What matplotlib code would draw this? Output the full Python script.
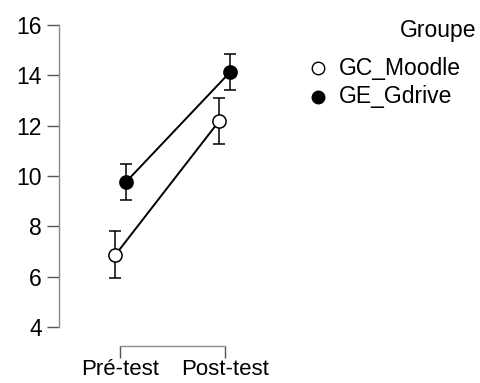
import matplotlib.pyplot as plt
from matplotlib.lines import Line2D

plt.rcParams['font.family'] = ['Liberation Sans', 'DejaVu Sans']

temps = ["Pré-test", "Post-test"]
groupes = ["GC_Moodle", "GE_Gdrive"]
moyennes = {"GC_Moodle": [6.86, 12.2], "GE_Gdrive": [9.75, 14.12]}
bas = {"GC_Moodle": [5.95, 11.26], "GE_Gdrive": [9.03, 13.4]}
hauts = {"GC_Moodle": [7.82, 13.11], "GE_Gdrive": [10.48, 14.85]}
couleurs = {"GC_Moodle": "white", "GE_Gdrive": "black"}
decalage = {"GC_Moodle": -0.05, "GE_Gdrive": 0.05}

W, H = 481, 383
fig = plt.figure(figsize=(W / 100, H / 100), dpi=100)
ax = fig.add_axes([59 / W, 1 - 327 / H, (282 - 59) / W, (327 - 25) / H])

for g in groupes:
    xs = [i + decalage[g] for i in range(len(temps))]
    m = moyennes[g]
    err = [[m[i] - bas[g][i] for i in range(2)], [hauts[g][i] - m[i] for i in range(2)]]
    ax.errorbar(xs, m, yerr=err, color="black", lw=1.4, elinewidth=1.1, capsize=4,
                capthick=1.1, marker="o", markersize=9.5, markerfacecolor=couleurs[g],
                markeredgecolor="black", markeredgewidth=1.1, clip_on=False, zorder=3)

ax.set_xlim(-0.59, 1.55)
ax.set_ylim(4, 16)
ax.set_yticks([4, 6, 8, 10, 12, 14, 16])
ax.set_xticks([0, 1])
ax.set_xticklabels(temps)
for s in ["top", "right"]:
    ax.spines[s].set_visible(False)
ax.spines["left"].set_bounds(4, 16)
ax.spines["bottom"].set_bounds(0, 1)
ax.spines["bottom"].set_position(("outward", 14))
for s in ["left", "bottom"]:
    ax.spines[s].set_color("#8c8c8c")
    ax.spines[s].set_linewidth(1.0)
ax.tick_params(axis="both", length=8.5, width=1.0, color="#555555", labelsize=16.5, labelcolor="black")
ax.tick_params(axis="y", pad=4)
ax.tick_params(axis="x", pad=0.5, labelsize=16)

# legende placee a la main
fig.text(476 / W, 1 - 31 / H, "Groupe", ha="right", va="center", fontsize=16.5)
for k, g in enumerate(groupes):
    yy = 1 - (68 + 29 * k) / H
    fig.add_artist(Line2D([318 / W], [yy], ls="none", marker="o", markersize=9,
                          markerfacecolor=couleurs[g], markeredgecolor="black",
                          markeredgewidth=1.0, transform=fig.transFigure))
    fig.text(339 / W, yy, g, ha="left", va="center", fontsize=16.5)

fig.savefig("out.png", dpi=100)
